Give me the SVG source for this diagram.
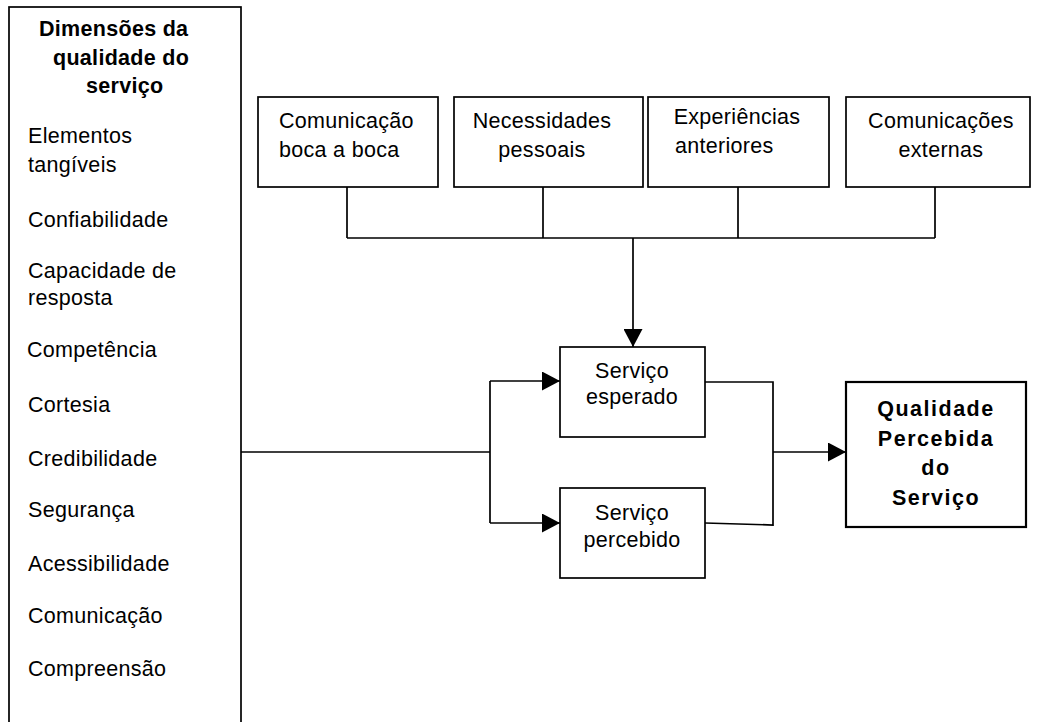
<svg xmlns="http://www.w3.org/2000/svg" width="1038" height="722" viewBox="0 0 1038 722">
  <style>
    text { font-family: "Liberation Sans", Arial, sans-serif; font-size: 21.5px; fill: #000; letter-spacing: 0.3px; }
    .b { font-weight: bold; }
    .q { font-weight: bold; letter-spacing: 1.5px; }
    .c { text-anchor: middle; }
    .box { fill: #fff; stroke: #000; stroke-width: 1.7; }
    .thick { stroke-width: 2.2; }
    .ln { fill: none; stroke: #000; stroke-width: 1.7; }
  </style>
  <defs>
    <marker id="arrow" markerUnits="userSpaceOnUse" viewBox="0 0 18 19" refX="18" refY="9.5" markerWidth="18" markerHeight="19" orient="auto">
      <path d="M0,0 L18,9.5 L0,19 Z" fill="#000"/>
    </marker>
  </defs>
  <rect width="1038" height="722" fill="#fff"/>

  <!-- connectors -->
  <g id="connectors" class="ln">
    <!-- expectations feed into expected service -->
    <path d="M347,187 V238 M543,187 V238 M738,187 V238 M935,187 V238 M347,238 H935"/>
    <path d="M633,238 V347" marker-end="url(#arrow)"/>
    <!-- dimensions split to both services -->
    <path d="M241,452 H490 M490,381 V523"/>
    <path d="M490,381 H560" marker-end="url(#arrow)"/>
    <path d="M490,523 H560" marker-end="url(#arrow)"/>
    <!-- both services join into perceived quality -->
    <path d="M705,382 H773 V525 L705,523"/>
    <path d="M773,452 H846" marker-end="url(#arrow)"/>
  </g>

  <g id="dimensoes">
    <rect class="box" x="9" y="7" width="232" height="730"/>
    <text class="b" x="39" y="36">Dimensões da</text>
    <text class="b" x="53" y="65">qualidade do</text>
    <text class="b" x="86" y="93">serviço</text>
    <text x="28" y="143">Elementos</text>
    <text x="28" y="172">tangíveis</text>
    <text x="28" y="227">Confiabilidade</text>
    <text x="28" y="278">Capacidade de</text>
    <text x="28" y="305">resposta</text>
    <text x="27" y="357">Competência</text>
    <text x="28" y="412">Cortesia</text>
    <text x="28" y="466">Credibilidade</text>
    <text x="28" y="517">Segurança</text>
    <text x="28" y="571">Acessibilidade</text>
    <text x="28" y="623">Comunicação</text>
    <text x="28" y="676">Compreensão</text>
  </g>

  <g id="boca-a-boca">
    <rect class="box" x="258" y="97" width="180" height="90"/>
    <text x="279" y="128">Comunicação</text>
    <text x="279" y="157">boca a boca</text>
  </g>

  <g id="necessidades">
    <rect class="box" x="454" y="97" width="189" height="90"/>
    <text class="c" x="542" y="128">Necessidades</text>
    <text class="c" x="542" y="157">pessoais</text>
  </g>

  <g id="experiencias">
    <rect class="box" x="648" y="97" width="181" height="90"/>
    <text class="c" x="737" y="124">Experiências</text>
    <text x="675" y="153">anteriores</text>
  </g>

  <g id="comunicacoes">
    <rect class="box" x="846" y="97" width="184" height="90"/>
    <text class="c" x="941" y="128">Comunicações</text>
    <text class="c" x="941" y="157">externas</text>
  </g>

  <g id="servico-esperado">
    <rect class="box" x="560" y="347" width="145" height="90"/>
    <text class="c" x="632" y="378">Serviço</text>
    <text class="c" x="632" y="404">esperado</text>
  </g>

  <g id="servico-percebido">
    <rect class="box" x="560" y="488" width="145" height="90"/>
    <text class="c" x="632" y="520">Serviço</text>
    <text class="c" x="632" y="547">percebido</text>
  </g>

  <g id="qualidade-percebida">
    <rect class="box thick" x="846" y="382" width="180" height="145"/>
    <text class="q c" x="936" y="416">Qualidade</text>
    <text class="q c" x="936" y="446">Percebida</text>
    <text class="q c" x="936" y="475">do</text>
    <text class="q c" x="936" y="505">Serviço</text>
  </g>
</svg>
